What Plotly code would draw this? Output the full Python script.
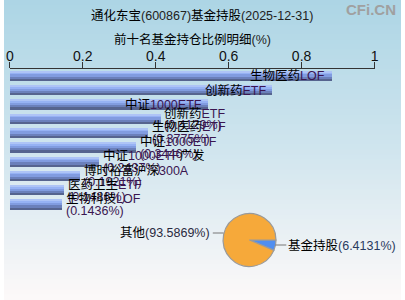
import plotly.graph_objects as go
import re

# ---------------- data ----------------
fund_names = ["生物医药LOF", "创新药ETF", "中证1000ETF", "创新药ETF", "生物医药ETF",
              "中证1000ETF", "中证1000ETF广发", "博时裕富沪深300A", "医药卫生ETF", "生物科技LOF"]
fund_pcts = [0.8819, 0.7198, 0.5431, 0.4129, 0.3775, 0.3446, 0.2437, 0.1921, 0.1486, 0.1436]
pie_labels = ["基金持股", "其他"]
pie_values = [6.4131, 93.5869]
x_ticks = [0, 0.2, 0.4, 0.6, 0.8, 1]
x_tick_text = ["0", "0.2", "0.4", "0.6", "0.8", "1"]
title_main = "通化东宝(600867)基金持股(2025-12-31)"
title_sub = "前十名基金持仓比例明细(%)"

W, H = 405, 300
FONT = "Liberation Sans, Noto Sans CJK SC, sans-serif"
ASCII_COLOR = "#3a1650"


def colorize(s, c=ASCII_COLOR):
    return re.sub(r"([\x20-\x7e]+)", lambda m: f"<span style='color:{c}'>{m.group(1)}</span>", s)


fig = go.Figure()

# background gradient (styling)
stops = [(0.0, (172, 213, 229)), (0.5, (208, 229, 238)), (1.0, (253, 249, 249))]
N = 60
for i in range(N):
    t = (i + 0.5) / N
    for (a, ca), (b, cb) in zip(stops[:-1], stops[1:]):
        if a <= t <= b:
            f = (t - a) / (b - a)
            col = tuple(round(ca[k] + (cb[k] - ca[k]) * f) for k in range(3))
            break
    fig.add_shape(type="rect", xref="paper", yref="paper",
                  x0=0, x1=1, y0=1 - (i + 1) / N - 0.002, y1=1 - i / N + 0.002,
                  fillcolor=f"rgb{col}", line=dict(width=0), layer="below")

ypos = list(range(len(fund_names)))
BW = 0.68
layers = [(1.0, "#56648f"), (0.78, "#6b80bb"), (0.55, "#819ce0"), (0.3, "#96b2f4"), (0.12, "#aec4f6")]
for frac, col in layers:
    fig.add_trace(go.Bar(
        x=fund_pcts, y=ypos, orientation="h",
        width=BW * frac, offset=-BW / 2,
        marker=dict(color=col, line=dict(width=0)),
        hoverinfo="skip", showlegend=False,
        xaxis="x", yaxis="y"))

# bar labels
for i, (n, v) in enumerate(zip(fund_names, fund_pcts)):
    if i < 3:
        fig.add_annotation(x=v, y=i, xref="x", yref="y", text=colorize(n),
                           showarrow=False, xanchor="right", yanchor="middle",
                           xshift=-4, font=dict(size=12.5, color="#000", family=FONT))
    else:
        fig.add_annotation(x=v, y=i, xref="x", yref="y", text=colorize(n),
                           showarrow=False, xanchor="left", yanchor="middle",
                           xshift=2, yshift=6, font=dict(size=12.5, color="#000", family=FONT))
        fig.add_annotation(x=v, y=i, xref="x", yref="y", text=colorize(f"({v:.4f}%)"),
                           showarrow=False, xanchor="left", yanchor="middle",
                           xshift=2, yshift=-6, font=dict(size=12.5, color="#000", family=FONT))

# pie
cx, cy, r = 250.5, 240, 27
fig.add_trace(go.Pie(
    labels=pie_labels, values=pie_values, sort=False, direction="clockwise",
    rotation=90, textinfo="none", hoverinfo="skip", showlegend=False,
    marker=dict(colors=["#4f8ef0", "#f6a93a"], line=dict(color="#9a9a9a", width=1.2)),
    domain=dict(x=[(cx - r) / W, (cx + r) / W], y=[1 - (cy + r) / H, 1 - (cy - r) / H])))

# pie labels with leader lines
fig.add_shape(type="line", xref="paper", yref="paper",
              x0=213 / W, x1=224 / W, y0=1 - 233 / H, y1=1 - 233 / H,
              line=dict(color="#777", width=1))
fig.add_shape(type="line", xref="paper", yref="paper",
              x0=277 / W, x1=288 / W, y0=1 - 245 / H, y1=1 - 245 / H,
              line=dict(color="#777", width=1))
fig.add_annotation(x=212 / W, y=1 - 233 / H, xref="paper", yref="paper",
                   text=pie_labels[1] + colorize(f"({pie_values[1]:.4f}%)", "#2a2a40"),
                   showarrow=False, xanchor="right", yanchor="middle",
                   font=dict(size=12.5, color="#000", family=FONT))
fig.add_annotation(x=288 / W, y=1 - 245 / H, xref="paper", yref="paper",
                   text=pie_labels[0] + colorize(f"({pie_values[0]:.4f}%)", "#2a3a60"),
                   showarrow=False, xanchor="left", yanchor="middle",
                   font=dict(size=12.5, color="#000", family=FONT))

# titles
fig.add_annotation(x=202 / W, y=1 - 15 / H, xref="paper", yref="paper",
                   text=colorize(title_main, "#222"), showarrow=False,
                   xanchor="center", yanchor="middle",
                   font=dict(size=12.5, color="#000", family=FONT))
fig.add_annotation(x=192 / W, y=1 - 39 / H, xref="paper", yref="paper",
                   text=colorize(title_sub, "#222"), showarrow=False,
                   xanchor="center", yanchor="middle",
                   font=dict(size=12.5, color="#000", family=FONT))
fig.add_annotation(x=402 / W, y=1 - 10 / H, xref="paper", yref="paper",
                   text="<b>CFi.CN</b>", showarrow=False,
                   xanchor="right", yanchor="middle",
                   font=dict(size=15, color="#a0a0a0", family="Liberation Sans, sans-serif"))

fig.update_layout(
    width=W, height=H, margin=dict(l=0, r=0, t=0, b=0),
    paper_bgcolor="rgba(0,0,0,0)", plot_bgcolor="rgba(0,0,0,0)",
    barmode="overlay", bargap=0,
    xaxis=dict(domain=[6 / W, 378 / W], range=[0, 1], side="top",
               tickvals=x_ticks, ticktext=x_tick_text,
               ticks="outside", ticklen=6, tickcolor="#333",
               showline=True, linecolor="#333", linewidth=1,
               showgrid=False, zeroline=False, ticklabelstandoff=-5,
               tickfont=dict(size=14, color="#111", family=FONT)),
    yaxis=dict(domain=[1 - 212 / H, 1 - 69 / H], range=[9.5, -0.5],
               showticklabels=False, showgrid=False, zeroline=False,
               showline=False, ticks=""),
)

fig.write_html("out.html")
